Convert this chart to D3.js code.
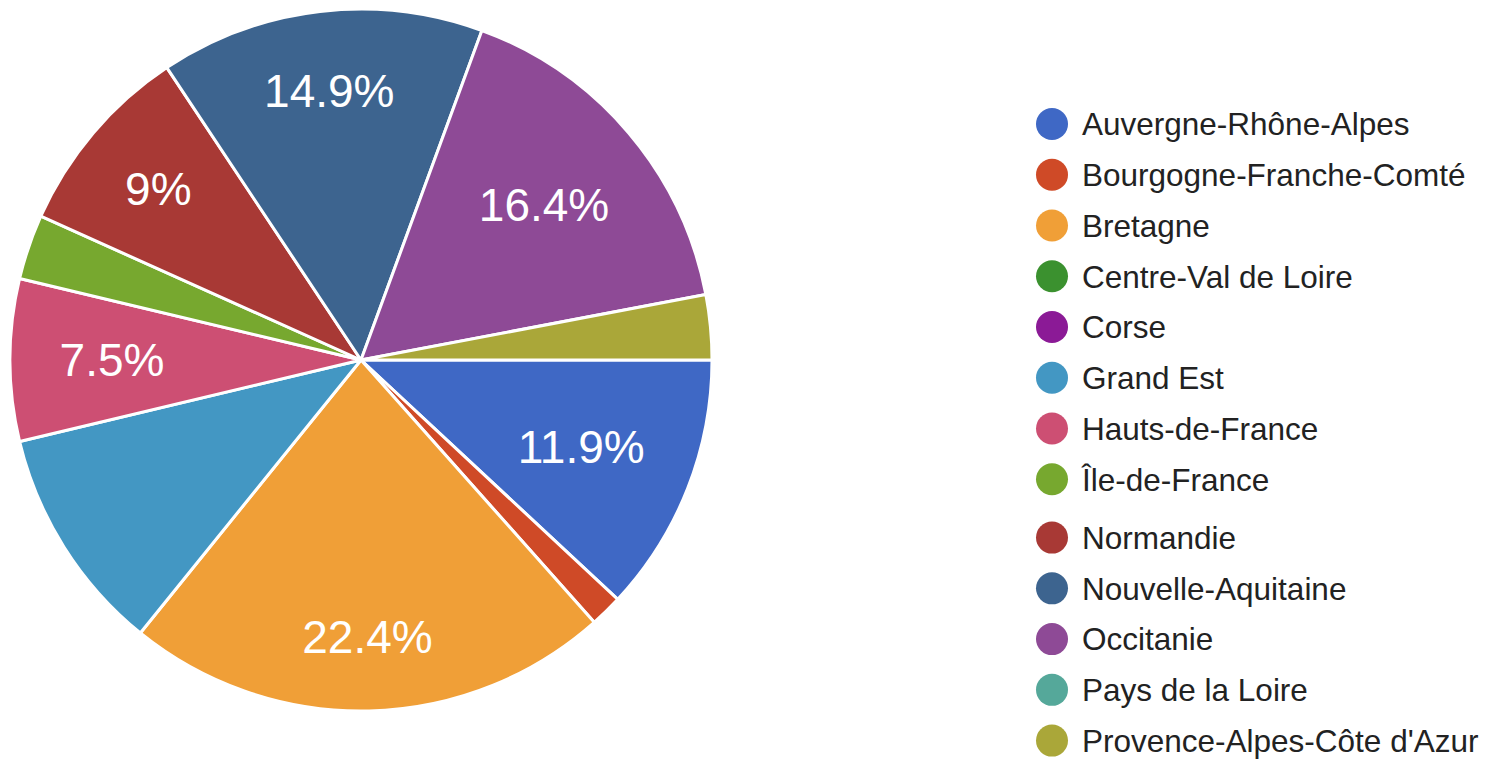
<!DOCTYPE html>
<html>
<head>
<meta charset="utf-8">
<script src="https://cdn.jsdelivr.net/npm/d3@7"></script>
<style>
  body { margin: 0; background: #fff; }
  svg { display: block; font-family: "Liberation Sans", Arial, Helvetica, sans-serif; }
</style>
</head>
<body>
<div id="chart"></div>
<script>
// regions and number of answers for each
const regions = [
    "Auvergne-Rhône-Alpes", "Bourgogne-Franche-Comté", "Bretagne", "Centre-Val de Loire",
    "Corse", "Grand Est", "Hauts-de-France", "Île-de-France", "Normandie",
    "Nouvelle-Aquitaine", "Occitanie", "Pays de la Loire", "Provence-Alpes-Côte d'Azur"
];
const counts = [8, 1, 15, 0, 0, 7, 5, 2, 6, 10, 11, 0, 2];
const sliceLabels = ["11.9%", "", "22.4%", "", "", "", "7.5%", "", "9%", "14.9%", "16.4%", "", ""];
const colors = [
    "#3f68c5", "#cf4a27", "#f09f37", "#3b912f", "#8b1a96", "#4397c3", "#cd4f73",
    "#77a82f", "#a83935", "#3d648f", "#8e4a96", "#55a89a", "#aaa739"
];

const W = 1501, H = 759;
const cx = 361, cy = 360, radius = 351;

const svg = d3.select("#chart")
    .append("svg")
    .attr("width", W)
    .attr("height", H);

const data = regions.map((name, i) => ({ name, value: counts[i], label: sliceLabels[i], color: colors[i] }));

// pie starts at 3 o'clock, going clockwise
const pie = d3.pie()
    .sort(null)
    .value(d => d.value)
    .startAngle(Math.PI / 2)
    .endAngle(Math.PI / 2 + 2 * Math.PI);

const arc = d3.arc().innerRadius(0).outerRadius(radius);
const arcs = pie(data).filter(d => d.data.value > 0);

const g = svg.append("g").attr("transform", `translate(${cx},${cy})`);

g.selectAll("path")
    .data(arcs)
    .join("path")
    .attr("d", arc)
    .attr("fill", d => d.data.color)
    .attr("stroke", "#fff")
    .attr("stroke-width", 3)
    .attr("stroke-linejoin", "round");

// slice labels: push the text out until its far corner reaches ~0.85 r
const fs = 46;
const labels = g.selectAll("text.slice")
    .data(arcs.filter(d => d.data.label))
    .join("text")
    .attr("class", "slice")
    .attr("fill", "#fff")
    .attr("font-size", fs)
    .attr("text-anchor", "middle")
    .text(d => d.data.label);

labels.each(function(d) {
    const w = this.getComputedTextLength();
    const h = fs * 0.716;
    const a = (d.startAngle + d.endAngle) / 2;
    const ux = Math.sin(a), uy = -Math.cos(a);
    const R = radius * 0.86;
    const b = w * Math.abs(ux) + h * Math.abs(uy);
    const c = (w * w + h * h) / 4 - R * R;
    const dist = (-b + Math.sqrt(b * b - 4 * c)) / 2;
    d3.select(this)
        .attr("x", dist * ux)
        .attr("y", dist * uy + h / 2);
});

// legend
const legendX = 1052, legendY = 124, rowStep = 50.75, extraGap = 7.6;
const legend = svg.append("g")
    .selectAll("g")
    .data(data)
    .join("g")
    .attr("transform", (d, i) => `translate(${legendX},${legendY + i * rowStep + (i >= 8 ? extraGap : 0)})`);

legend.append("circle")
    .attr("r", 16)
    .attr("fill", d => d.color);

legend.append("text")
    .attr("x", 30)
    .attr("y", 0)
    .attr("dy", "0.36em")
    .attr("font-size", 31.5)
    .attr("fill", "#222")
    .text(d => d.name);
</script>
</body>
</html>
